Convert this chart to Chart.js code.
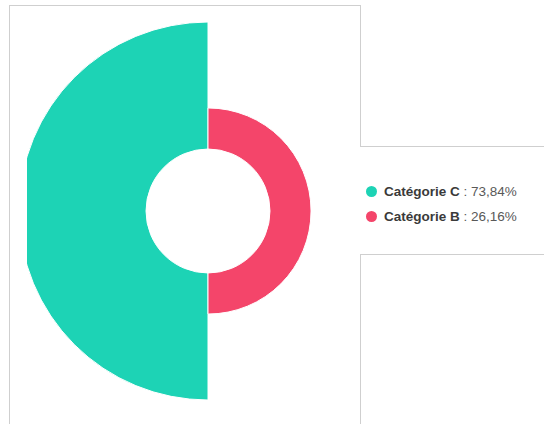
<!DOCTYPE html>
<html>
<head>
<meta charset="utf-8">
<script src="https://cdn.jsdelivr.net/npm/chart.js@4/dist/chart.umd.min.js"></script>
<style>
  html, body { margin: 0; padding: 0; background: #fff; }
  body { width: 544px; height: 424px; position: relative; overflow: hidden; font-family: "Liberation Sans", Arial, sans-serif; }
  .ln { position: absolute; background: #cfcfcf; }
  #clip { position: absolute; left: 27px; top: 0; width: 333px; height: 424px; overflow: hidden; }
  #wrap { position: absolute; left: -8px; top: 22px; width: 379px; height: 378px; }
  #legend { position: absolute; left: 366px; top: 179px; }
  .item { display: flex; align-items: center; height: 25px; font-size: 13.5px; white-space: nowrap; }
  .dot { width: 11px; height: 11px; border-radius: 50%; margin-right: 7px; }
  .name { color: #3a3a3a; font-weight: 600; }
  .val { color: #595959; }
</style>
</head>
<body>
<div class="ln" style="left:9px;top:5px;width:1px;height:419px"></div>
<div class="ln" style="left:9px;top:5px;width:352px;height:1px"></div>
<div class="ln" style="left:360px;top:5px;width:1px;height:141px"></div>
<div class="ln" style="left:360px;top:146px;width:184px;height:1px"></div>
<div class="ln" style="left:360px;top:254px;width:184px;height:1px"></div>
<div class="ln" style="left:360px;top:254px;width:1px;height:170px"></div>
<div id="clip"><div id="wrap"><canvas id="c"></canvas></div></div>
<div id="legend"></div>
<script>
const categories = ["Catégorie C", "Catégorie B"];
const values = [73.84, 26.16];
const colors = ["#1dd3b5", "#f4456a"];

const cutoutPlugin = {
  id: 'cutout',
  afterDatasetsUpdate(chart) {
    const scale = chart.scales.r;
    const inner = scale.drawingArea * 0.328;
    chart.getDatasetMeta(0).data.forEach(el => { el.innerRadius = inner; });
  }
};

new Chart(document.getElementById('c'), {
  type: 'polarArea',
  data: {
    labels: categories,
    datasets: [{
      data: values,
      backgroundColor: colors,
      borderColor: '#ffffff',
      borderWidth: 1
    }]
  },
  options: {
    responsive: true,
    maintainAspectRatio: false,
    animation: false,
    layout: { padding: 0 },
    plugins: { legend: { display: false }, tooltip: { enabled: false } },
    scales: {
      r: {
        display: false,
        min: -31,
        max: 73.84,
        startAngle: 180
      }
    }
  },
  plugins: [cutoutPlugin]
});

const legend = document.getElementById('legend');
categories.forEach((c, i) => {
  const row = document.createElement('div');
  row.className = 'item';
  row.innerHTML = '<span class="dot" style="background:' + colors[i] + '"></span>' +
    '<span class="name">' + c + '</span><span class="val">&nbsp;: ' + values[i].toFixed(2).replace('.', ',') + '%</span>';
  legend.appendChild(row);
});
</script>
</body>
</html>
